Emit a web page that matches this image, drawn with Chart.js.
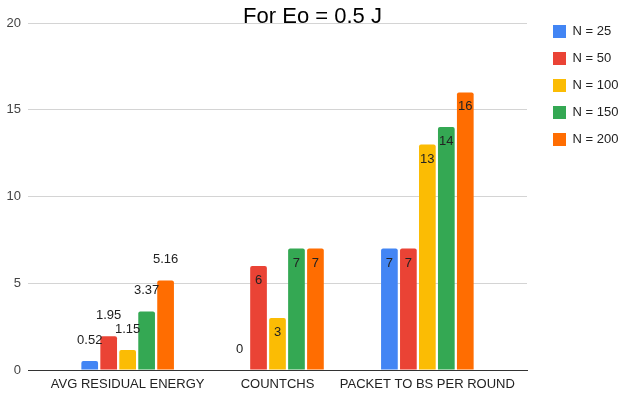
<!DOCTYPE html>
<html>
<head>
<meta charset="utf-8">
<title>For Eo = 0.5 J</title>
<script src="https://cdn.jsdelivr.net/npm/chart.js@4/dist/chart.umd.min.js"></script>
<style>
  html, body { margin: 0; padding: 0; background: #fff; }
  #wrap { width: 625px; height: 398px; position: relative; }
</style>
</head>
<body>
<div id="wrap"><canvas id="chart"></canvas></div>
<script>
// Metrics per category, one array per network size
const categories = ['AVG RESIDUAL ENERGY', 'COUNTCHS', 'PACKET TO BS PER ROUND'];
const seriesNames = ['N = 25', 'N = 50', 'N = 100', 'N = 150', 'N = 200'];
const n25  = [0.52, 0, 7];
const n50  = [1.95, 6, 7];
const n100 = [1.15, 3, 13];
const n150 = [3.37, 7, 14];
const n200 = [5.16, 7, 16];
const yTicks = [0, 5, 10, 15, 20];

const seriesValues = [n25, n50, n100, n150, n200];
const seriesColors = ['#4285F4', '#EA4335', '#FBBC04', '#34A853', '#FF6D01'];

const FONT = '"Liberation Sans", Arial, sans-serif';
Chart.defaults.font.family = FONT;

// Value labels: inside the top of the bar when the text fits, above it otherwise
const valueLabels = {
  id: 'valueLabels',
  afterDatasetsDraw(chart) {
    const ctx = chart.ctx;
    ctx.save();
    ctx.font = '13px ' + FONT;
    ctx.fillStyle = '#222';
    ctx.textAlign = 'center';
    ctx.textBaseline = 'middle';
    chart.data.datasets.forEach((ds, di) => {
      const meta = chart.getDatasetMeta(di);
      if (meta.hidden) return;
      meta.data.forEach((bar, i) => {
        const text = String(ds.data[i]);
        const p = bar.getProps(['x', 'y', 'base', 'width'], true);
        const tw = ctx.measureText(text).width;
        const inside = tw <= p.width && (p.base - p.y) >= 22;
        ctx.fillText(text, p.x, inside ? p.y + 14.5 : p.y - 21);
      });
    });
    ctx.restore();
  }
};

// extra room on both sides of the category axis (in category units)
const X_SIDE_ROOM = 0.165;

new Chart(document.getElementById('chart'), {
  type: 'bar',
  data: {
    labels: categories,
    datasets: seriesNames.map((name, i) => ({
      label: name,
      data: seriesValues[i],
      backgroundColor: seriesColors[i],
      borderWidth: 0,
      borderRadius: 2,
      categoryPercentage: 0.633,
      barPercentage: 0.88
    }))
  },
  options: {
    responsive: true,
    maintainAspectRatio: false,
    animation: false,
    layout: { padding: { top: 11, right: 0, bottom: 0, left: 0 } },
    plugins: {
      title: {
        display: true,
        text: 'For Eo = 0.5 J',
        color: '#000',
        font: { size: 22, weight: 'normal', family: FONT },
        padding: { top: -7, bottom: -7.4 }
      },
      legend: {
        position: 'right',
        align: 'start',
        maxWidth: 86,
        labels: {
          boxWidth: 13,
          boxHeight: 13,
          padding: 14,
          color: '#222',
          font: { size: 13, family: FONT }
        }
      },
      tooltip: { enabled: false }
    },
    scales: {
      x: {
        offset: true,
        grid: { display: false, drawTicks: false },
        border: { display: true, color: '#333', width: 1 },
        ticks: { color: '#222', font: { size: 13 }, padding: 7, maxRotation: 0, autoSkip: false },
        afterBuildTicks: (s) => {
          s._startValue -= X_SIDE_ROOM;
          s._valueRange += 2 * X_SIDE_ROOM;
        },
        afterFit: (s) => { s.height = 28; }
      },
      y: {
        min: yTicks[0],
        max: yTicks[yTicks.length - 1],
        afterBuildTicks: (s) => { s.ticks = yTicks.map(v => ({ value: v })); },
        grid: {
          color: (c) => (c.tick && c.tick.value === 0 ? '#333' : '#d4d4d4'),
          drawTicks: false
        },
        border: { display: false },
        ticks: { color: '#444', font: { size: 13 }, padding: 7 },
        afterFit: (s) => { s.width = 28; }
      },
      gap: {
        type: 'linear',
        position: 'right',
        display: true,
        grid: { display: false, drawTicks: false },
        border: { display: false },
        ticks: { display: false },
        afterFit: (s) => { s.width = 12; }
      }
    }
  },
  plugins: [valueLabels]
});
</script>
</body>
</html>
